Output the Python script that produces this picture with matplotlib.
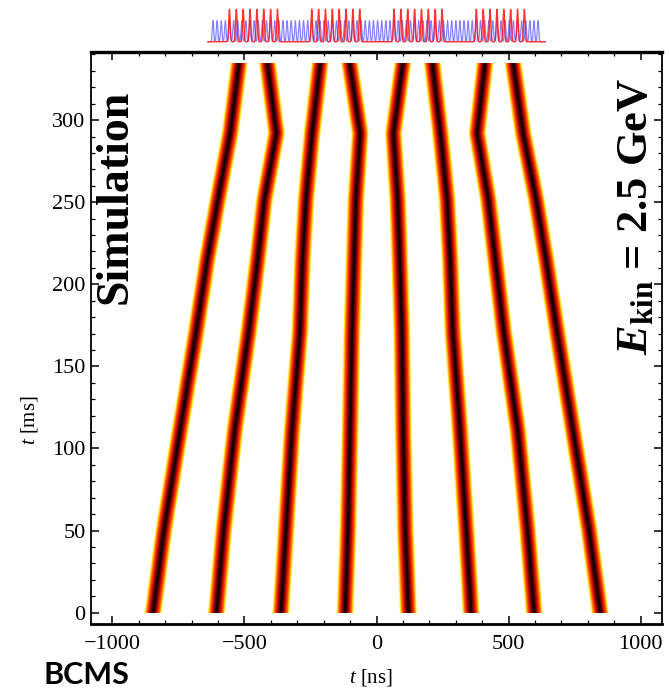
import numpy as np
import matplotlib.pyplot as plt
from matplotlib.patches import Rectangle
from matplotlib.ticker import MultipleLocator

plt.rcParams['font.family'] = 'Liberation Serif'
plt.rcParams['mathtext.fontset'] = 'custom'
plt.rcParams['mathtext.rm'] = 'Liberation Serif'
plt.rcParams['mathtext.it'] = 'Liberation Serif:italic'
plt.rcParams['mathtext.bf'] = 'Liberation Serif:bold'
plt.rcParams['mathtext.bfit'] = 'Liberation Serif:italic:bold'

# bunch centre positions [ns] at each time step [ms]
t_ms = [0, 50, 111, 171, 215, 252, 292, 335]
bunch1 = [-846, -805, -744, -683, -641, -600, -554, -520]
bunch2 = [-606, -579, -537, -484, -450, -424, -379, -413]
bunch3 = [-362, -343, -320, -290, -280, -267, -244, -213]
bunch4 = [-119, -108, -100, -93, -85, -78, -62, -102]
bunch5 = [121, 109, 101, 96, 88, 80, 64, 100]
bunch6 = [358, 340, 316, 289, 279, 267, 242, 211]
bunch7 = [597, 572, 535, 482, 450, 423, 381, 411]
bunch8 = [847, 805, 744, 684, 642, 604, 555, 517]
bunches = [bunch1, bunch2, bunch3, bunch4, bunch5, bunch6, bunch7, bunch8]

# inset: bucket indices of the filled buckets
blue_buckets = list(range(80))
red_group_starts = [4, 24, 44, 64]
red_per_group = 8
red_spacing = 5 / 3

# profile shading, outside -> core (width in px)
layers = [(18.0, '#fffbd2'), (16.8, '#fff060'), (15.6, '#ffd21a'),
          (14.2, '#ff9a00'), (12.8, '#ff6000'), (11.2, '#f53200'),
          (9.2, '#d81600'), (7.2, '#a80400'), (5.2, '#6a0000'),
          (3.2, '#300000'), (1.6, '#120000')]

fig = plt.figure(figsize=(6.69, 6.90), dpi=100)
ax = fig.add_axes([91 / 669, 1 - 624 / 690, 571 / 669, 572 / 690])

clip = Rectangle((-1100, 0), 2200, t_ms[-1], transform=ax.transData)
for pos in bunches:
    for w, c in layers:
        ln, = ax.plot(pos, t_ms, color=c, lw=w * 0.72,
                      solid_capstyle='projecting', solid_joinstyle='round')
        ln.set_clip_path(clip)

ax.set_xlim(-1081, 1081)
ax.set_ylim(-6.9, 341.5)
ax.xaxis.set_major_locator(MultipleLocator(500))
ax.xaxis.set_minor_locator(MultipleLocator(100))
ax.yaxis.set_major_locator(MultipleLocator(50))
ax.yaxis.set_minor_locator(MultipleLocator(10))
ax.tick_params(which='both', direction='in', top=True, right=True,
               labelsize=16, color='black')
ax.tick_params(which='major', length=6, width=1.1)
ax.tick_params(which='minor', length=3, width=0.9)
ax.tick_params(axis='x', pad=8)
ax.tick_params(axis='y', pad=4)
ax.spines['top'].set_linewidth(2.4)
ax.spines['bottom'].set_linewidth(2.0)
ax.spines['left'].set_linewidth(1.3)
ax.spines['right'].set_linewidth(1.3)

fig.text(371 / 669, 1 - 677 / 690, r'$t$ [ns]', ha='center', va='center', fontsize=15)
fig.text(30 / 669, 1 - 420 / 690, r'$t$ [ms]', ha='center', va='center',
         rotation=90, fontsize=15)
fig.text(116 / 669, 1 - 197 / 690, 'Simulation', ha='center', va='center',
         rotation=90, fontsize=33, fontweight='bold')
fig.text(636 / 669, 1 - 216 / 690, r'$\mathbfit{E}_{\mathbf{kin}}$ = 2.5 GeV',
         ha='center', va='center', rotation=90, fontsize=32, fontweight='bold')
fig.text(43 / 669, 1 - 684 / 690, 'BCMS', family='Lato', fontweight='bold',
         fontsize=22, va='baseline', ha='left')

# line-density inset above the waterfall
ins = fig.add_axes([205 / 669, 1 - 45 / 690, 345 / 669, 40 / 690])
x = np.linspace(-1.2, 80.7, 3000)
sig = 0.18
blue = np.zeros_like(x)
for b in blue_buckets:
    blue += 0.65 * np.exp(-(x - b) ** 2 / (2 * sig ** 2))
red_centres = [s + k * red_spacing for s in red_group_starts for k in range(red_per_group)]
red = np.zeros_like(x)
for c in red_centres:
    red += np.exp(-(x - c) ** 2 / (2 * sig ** 2))
ins.fill_between(x, 0, blue, color='#b8b8ff', alpha=0.35, lw=0)
ins.plot(x, blue, color='#6b6bff', lw=0.8, alpha=0.85)
ins.plot(x, red, color='#ff1a1a', lw=1.0, alpha=0.9)
ins.set_xlim(-1.94, 81.9)
ins.set_ylim(-0.1, 1.13)
ins.axis('off')

fig.savefig('out.png', dpi=100)
